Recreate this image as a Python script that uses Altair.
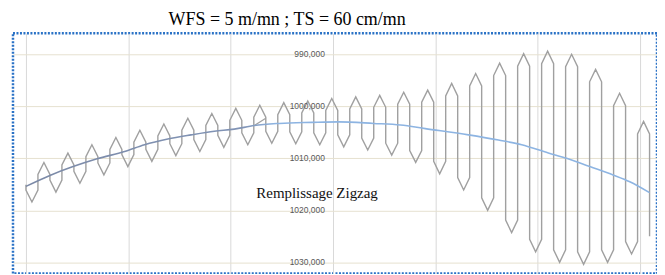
import altair as alt
import pandas as pd

# ---- zigzag path (pass index, depth) ----
col_pass = [0, 1, 2, 3, 4, 5, 6, 7, 8, 9, 10, 11, 12, 13, 14, 15, 16, 17, 18, 19,
            20, 21, 22, 23, 24, 25, 26, 27, 28, 29, 30, 31, 32, 33, 34, 35, 36, 37,
            38, 39, 40, 41, 42, 43, 44, 45, 46, 47, 48, 49, 50, 51, 52]
col_start = [1015.1, 1016.1, 1013.1, 1014.2, 1011.3, 1012.5, 1009.7, 1010.9, 1008.3, 1009.3,
             1006.9, 1008.3, 1005.7, 1007.2, 1004.6, 1006.4, 1003.7, 1005.6, 1002.7, 1005.1,
             1002.1, 1004.8, 1001.6, 1004.9, 1001.3, 1005.1, 1000.8, 1005.5, 1000.5, 1006.1,
             1000.2, 1007.1, 999.6, 1008.5, 999.2, 1010.6, 998.0, 1013.7, 996.1, 1017.6,
             994.1, 1021.9, 992.3, 1025.6, 991.8, 1027.6, 992.4, 1028.0, 995.3, 1027.6,
             999.9, 1026.0, 1005.3]
col_end = [1016.1, 1013.1, 1014.2, 1011.3, 1012.5, 1009.7, 1010.9, 1008.3, 1009.3, 1006.9,
           1008.3, 1005.7, 1007.2, 1004.6, 1006.4, 1003.7, 1005.6, 1002.7, 1005.1, 1002.1,
           1004.8, 1001.6, 1004.9, 1001.3, 1005.1, 1000.8, 1005.5, 1000.5, 1006.1, 1000.2,
           1007.1, 999.6, 1008.5, 999.2, 1010.6, 998.0, 1013.7, 996.1, 1017.6, 994.1,
           1021.9, 992.3, 1025.6, 991.8, 1027.6, 992.4, 1028.0, 995.3, 1027.6, 999.9,
           1026.0, 1005.3, 1025.0]
valley_pass = [0.5, 2.5, 4.5, 6.5, 8.5, 10.5, 12.5, 14.5, 16.5, 18.5, 20.5, 22.5, 24.5,
               26.5, 28.5, 30.5, 32.5, 34.5, 36.5, 38.5, 40.5, 42.5, 44.5, 46.5, 48.5, 50.5]
valley_depth = [1018.4, 1016.5, 1014.8, 1013.2, 1011.6, 1010.6, 1009.5, 1008.7, 1007.9,
                1007.4, 1007.1, 1007.2, 1007.4, 1007.8, 1008.4, 1009.4, 1010.8, 1013.0,
                1016.1, 1020.0, 1024.3, 1028.0, 1030.0, 1030.4, 1030.0, 1028.4]
peak_pass = [1.5, 3.5, 5.5, 7.5, 9.5, 11.5, 13.5, 15.5, 17.5, 19.5, 21.5, 23.5, 25.5,
             27.5, 29.5, 31.5, 33.5, 35.5, 37.5, 39.5, 41.5, 43.5, 45.5, 47.5, 49.5, 51.5]
peak_depth = [1010.8, 1009.0, 1007.4, 1006.0, 1004.6, 1003.4, 1002.3, 1001.4, 1000.4,
              999.8, 999.3, 999.0, 998.5, 998.2, 997.9, 997.3, 996.9, 995.6, 993.7,
              991.7, 989.9, 989.4, 990.0, 992.9, 997.5, 1002.9]

# ---- smooth mean curve ----
trend_pass = [0, 2.0, 3.93, 5.93, 8.23, 9.89, 11.83, 13.77, 15.71, 17.37, 19.04, 21.11,
              23.88, 26.1, 29.0, 31.23, 33.3, 36.9, 39.4, 41.34, 43.56, 45.08, 47.02,
              48.96, 50.35, 52.0]
trend_depth = [1015.4, 1013.3, 1011.6, 1010.1, 1008.7, 1007.4, 1006.3, 1005.5, 1004.8,
               1004.4, 1003.7, 1003.3, 1003.1, 1003.0, 1003.3, 1003.6, 1004.3, 1005.5,
               1006.5, 1007.4, 1009.0, 1010.0, 1011.6, 1013.2, 1014.5, 1016.6]

# small stray segment of the gray trace
stray_pass = [19.04, 20]
stray_depth = [1003.7, 1002.3]

y_ticks = [990, 1000, 1010, 1020, 1030]
y_labels = ["990,000", "1000,000", "1010,000", "1020,000", "1030,000"]
x_grid = [0, 8.535, 17.07, 25.6, 34.14, 42.67, 51.2]
y_axis_cross = [25.6]

title_text = ["WFS = 5 m/mn ; TS = 60 cm/mn"]
annot_text = ["Remplissage Zigzag"]

# ---- build tables ----
rows = []
for k in range(len(col_pass)):
    rows.append((col_pass[k], col_start[k]))
    rows.append((col_pass[k], col_end[k]))
    if k < len(col_pass) - 1:
        if k % 2 == 0:
            rows.append((valley_pass[k // 2], valley_depth[k // 2]))
        else:
            rows.append((peak_pass[k // 2], peak_depth[k // 2]))
zig = pd.DataFrame(rows, columns=["pass", "depth"])
zig["order"] = range(len(zig))

trend = pd.DataFrame({"pass": trend_pass, "depth": trend_depth})
stray = pd.DataFrame({"pass": stray_pass, "depth": stray_depth})
ylab = pd.DataFrame({"depth": y_ticks, "label": y_labels, "pass": y_axis_cross * len(y_ticks)})
tdf = pd.DataFrame({"label": title_text})
adf = pd.DataFrame({"label": annot_text})

xscale = alt.Scale(domain=[-1.08, 52.62], nice=False, zero=False)
yscale = alt.Scale(domain=[985.98, 1032.17], reverse=True, nice=False, zero=False)

X = alt.X("pass:Q", scale=xscale,
          axis=alt.Axis(values=x_grid, grid=True, gridColor="#d9d9d9", gridWidth=1,
                        labels=False, ticks=False, domain=False, title=None))
Y = alt.Y("depth:Q", scale=yscale,
          axis=alt.Axis(values=y_ticks, grid=True, gridColor="#e6e1d0", gridWidth=1,
                        labels=False, ticks=False, domain=False, title=None))

zig_layer = alt.Chart(zig).mark_line(color="#a0a0a0", strokeWidth=1.4).encode(
    x=X, y=Y, order=alt.Order("order:Q"))

stray_layer = alt.Chart(stray).mark_line(color="#a0a0a0", strokeWidth=1.3).encode(
    x=alt.X("pass:Q", scale=xscale), y=alt.Y("depth:Q", scale=yscale))

grad = alt.Gradient(
    gradient="linear",
    stops=[alt.GradientStop(color="#7b89a6", offset=0),
           alt.GradientStop(color="#8194b6", offset=0.35),
           alt.GradientStop(color="#8db4e2", offset=0.4),
           alt.GradientStop(color="#8db4e2", offset=1)],
    x1=0, x2=1, y1=0, y2=0)
trend_layer = alt.Chart(trend).mark_line(color=grad, strokeWidth=1.6, interpolate="monotone").encode(
    x=alt.X("pass:Q", scale=xscale), y=alt.Y("depth:Q", scale=yscale))

ylab_layer = alt.Chart(ylab).mark_text(
    align="right", baseline="middle", dx=-8, fontSize=8.5, font="Liberation Sans",
    color="#595959").encode(
    x=alt.X("pass:Q", scale=xscale), y=alt.Y("depth:Q", scale=yscale), text="label:N")

title_layer = alt.Chart(tdf).mark_text(
    align="center", baseline="alphabetic", fontSize=18, font="Liberation Serif",
    color="#000000").encode(x=alt.value(275), y=alt.value(-8), text="label:N")

annot_layer = alt.Chart(adf).mark_text(
    align="center", baseline="alphabetic", fontSize=15, font="Liberation Serif",
    color="#111111").encode(x=alt.value(305), y=alt.value(165), text="label:N")

chart = alt.layer(
    zig_layer, stray_layer, trend_layer, ylab_layer, title_layer, annot_layer
).properties(
    width=646, height=241,
    autosize=alt.AutoSizeParams(type="none"),
    padding={"left": 5, "top": 25, "right": 0, "bottom": 0},
).configure(
    background="white",
    view=alt.ViewConfig(stroke="#2a72c6", strokeWidth=2.5, strokeDash=[2, 1.5]),
)

chart.save("out.html", embed_options={"renderer": "svg", "actions": False})
